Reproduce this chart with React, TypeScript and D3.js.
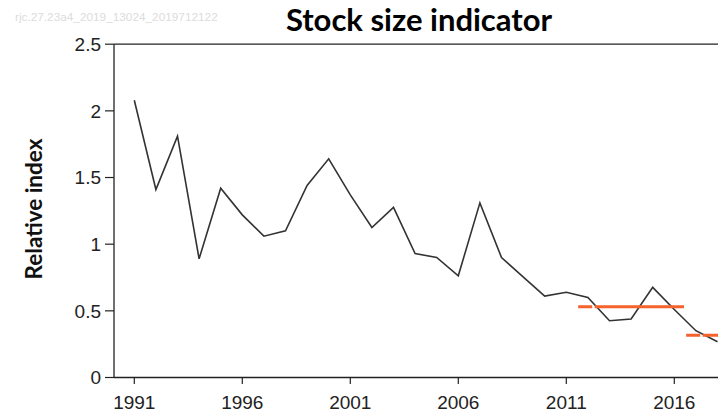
import React from "react";
import * as d3 from "d3";

const years = [1991,1992,1993,1994,1995,1996,1997,1998,1999,2000,2001,2002,2003,2004,2005,2006,2007,2008,2009,2010,2011,2012,2013,2014,2015,2016,2017,2018];
const values = [2.08,1.41,1.81,0.89,1.42,1.22,1.06,1.10,1.44,1.64,1.37,1.125,1.276,0.93,0.90,0.763,1.31,0.90,0.755,0.611,0.639,0.60,0.426,0.439,0.676,0.51,0.351,0.268];
const refStart = [2011.55, 2016.55];
const refEnd = [2016.45, 2018.6];
const refValue = [0.53, 0.316];
const yTicks = [0, 0.5, 1, 1.5, 2, 2.5];
const xTicks = [1991, 1996, 2001, 2006, 2011, 2016];

const W = 718, H = 414;

export default function App() {
  const x = d3.scaleLinear().domain([1991, 2016]).range([134.3, 674.3]);
  const y = d3.scaleLinear().domain([0, 2.5]).range([377.5, 44.2]);
  const pts = years.map((yr, i) => [yr, values[i]] as [number, number]);
  const line = d3.line<[number, number]>().x(d => x(d[0])).y(d => y(d[1]));
  const left = 114;
  const font = "'Liberation Sans', Arial, sans-serif";
  return (
    <svg width={W} height={H} style={{ position: "absolute", left: 0, top: 0, background: "#fff" }}>
      <defs>
        <clipPath id="plot">
          <rect x={left} y={30} width={W - left} height={360} />
        </clipPath>
      </defs>
      <text x={15} y={21} fontSize={11.8} fill="#dcdcdc" fontFamily={font}>rjc.27.23a4_2019_13024_2019712122</text>
      <text x={419} y={31} textAnchor="middle" fontSize={31} fontWeight="bold" fontFamily="Lato, 'Open Sans', sans-serif" fill="#000">Stock size indicator</text>
      <text transform={`translate(42,209) rotate(-90)`} textAnchor="middle" fontSize={22.5} fontWeight="bold" fontFamily="Lato, 'Open Sans', sans-serif" fill="#111">Relative index</text>
      <line x1={left} x2={W} y1={y(2.5)} y2={y(2.5)} stroke="#222" strokeWidth={1.3} />
      <line x1={left} x2={W} y1={y(0)} y2={y(0)} stroke="#222" strokeWidth={1.3} />
      <line x1={left} x2={left} y1={y(2.5)} y2={y(0)} stroke="#222" strokeWidth={1.3} />
      {yTicks.map(t => (
        <g key={t}>
          <line x1={left - 9} x2={left} y1={y(t)} y2={y(t)} stroke="#222" strokeWidth={1.2} />
          <text x={left - 13} y={y(t)} dy="0.36em" textAnchor="end" fontSize={19} fontFamily={font} fill="#222">{t}</text>
        </g>
      ))}
      {xTicks.map(t => (
        <g key={t}>
          <line x1={x(t)} x2={x(t)} y1={y(0)} y2={y(0) + 6.5} stroke="#222" strokeWidth={1.2} />
          <text x={x(t)} y={409} textAnchor="middle" fontSize={19} fontFamily={font} fill="#222">{t}</text>
        </g>
      ))}
      <g clipPath="url(#plot)">
        <path d={line(pts) || ""} fill="none" stroke="#333" strokeWidth={1.6} strokeLinejoin="miter" />
        {refValue.map((v, i) => (
          <line key={i} x1={x(refStart[i])} x2={x(refEnd[i])} y1={y(v)} y2={y(v)} stroke="#f5622c" strokeWidth={3} strokeDasharray="14,2.5,200,2.5" />
        ))}
      </g>
    </svg>
  );
}
